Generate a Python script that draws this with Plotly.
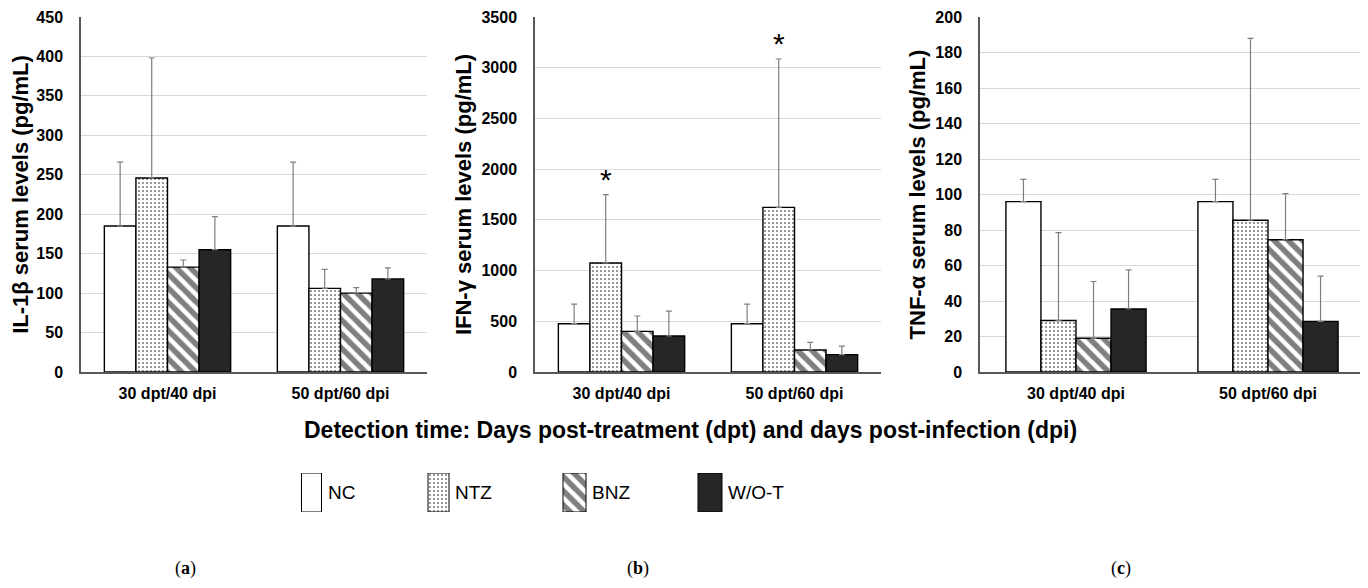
import plotly.graph_objects as go

categories = ["30 dpt/40 dpi", "50 dpt/60 dpi"]
groups = ["NC", "NTZ", "BNZ", "W/O-T"]

# Panel (a) IL-1β: means and upper error-bar tops
il1b_mean = {"NC": [185, 185], "NTZ": [246, 106], "BNZ": [133, 100], "W/O-T": [155, 118]}
il1b_top = {"NC": [266, 266], "NTZ": [398, 130], "BNZ": [142, 107], "W/O-T": [197, 132]}

# Panel (b) IFN-γ
ifng_mean = {"NC": [476, 476], "NTZ": [1075, 1623], "BNZ": [401, 217], "W/O-T": [355, 171]}
ifng_top = {"NC": [670, 670], "NTZ": [1748, 3086], "BNZ": [552, 292], "W/O-T": [601, 256]}

# Panel (c) TNF-α
tnfa_mean = {"NC": [96, 96], "NTZ": [29, 85.5], "BNZ": [19, 74.5], "W/O-T": [35.5, 28.5]}
tnfa_top = {"NC": [108.5, 108.5], "NTZ": [78.5, 188], "BNZ": [51, 100.5], "W/O-T": [57.5, 54]}

# significance marks (panel b, NTZ)
sig_cats = ["30 dpt/40 dpi", "50 dpt/60 dpi"]

y_titles = ["IL-1β serum levels (pg/mL)", "IFN-γ serum levels (pg/mL)", "TNF-α serum levels (pg/mL)"]
y_ranges = [[0, 450], [0, 3500], [0, 200]]
y_dticks = [50, 500, 20]
panel_labels = ["a", "b", "c"]

styles = {
    "NC": dict(color="white", pattern=None),
    "NTZ": dict(color="white", pattern=dict(shape=".", fgcolor="black", bgcolor="white", size=4, solidity=0.22)),
    "BNZ": dict(color="white", pattern=dict(shape="\\", fgcolor="black", bgcolor="white", size=10, solidity=0.55)),
    "W/O-T": dict(color="#262626", pattern=None),
}

SANS = "Liberation Sans, Arial, sans-serif"
SERIF = "Liberation Serif, DejaVu Serif, serif"

W, H = 1368, 588
OFF = 8  # default page body margin


def px_x(x):
    return (x - OFF) / W


def px_y(y):
    return 1 - (y - OFF) / H


fig = go.Figure()
datasets = [(il1b_mean, il1b_top), (ifng_mean, ifng_top), (tnfa_mean, tnfa_top)]
for p, (means, tops) in enumerate(datasets):
    xa = "x" if p == 0 else f"x{p+1}"
    ya = "y" if p == 0 else f"y{p+1}"
    for g in groups:
        st = styles[g]
        marker = dict(color=st["color"], line=dict(color="black", width=1.4))
        if st["pattern"] is not None:
            marker["pattern"] = st["pattern"]
        up = [t - m for t, m in zip(tops[g], means[g])]
        fig.add_trace(go.Bar(
            x=categories, y=means[g], name=g, xaxis=xa, yaxis=ya,
            marker=marker, showlegend=False,
            error_y=dict(type="data", array=up, arrayminus=[0] * len(up), symmetric=False,
                         color="#7f7f7f", thickness=1.2, width=3),
        ))

xdoms = [(81, 427), (535, 881), (980, 1364)]
ydom = [px_y(372), px_y(17)]

layout = dict(
    width=W, height=H, margin=dict(l=0, r=0, t=0, b=0, autoexpand=False),
    paper_bgcolor="white", plot_bgcolor="white",
    barmode="group", bargap=0.27, bargroupgap=0,
    font=dict(family=SANS, color="black"),
)
for p in range(3):
    xk = "xaxis" if p == 0 else f"xaxis{p+1}"
    yk = "yaxis" if p == 0 else f"yaxis{p+1}"
    ya = "y" if p == 0 else f"y{p+1}"
    xa = "x" if p == 0 else f"x{p+1}"
    layout[xk] = dict(domain=[px_x(xdoms[p][0]), px_x(xdoms[p][1])], anchor=ya, automargin=False,
                      showline=True, linecolor="#595959", linewidth=1.5, ticks="",
                      ticklabelstandoff=6,
                      tickfont=dict(size=16, family=SANS, weight="bold"), fixedrange=True)
    layout[yk] = dict(domain=ydom, anchor=xa, range=y_ranges[p], dtick=y_dticks[p], automargin=False,
                      showline=True, linecolor="#595959", linewidth=1.5, ticks="",
                      showgrid=True, gridcolor="#d9d9d9", gridwidth=1, zeroline=False,
                      ticklabelstandoff=13,
                      tickfont=dict(size=16, family=SANS, weight="bold"),
                      title=dict(text=y_titles[p], font=dict(size=22, family=SANS, weight="bold"), standoff=4))

# legend swatch axis (pixel coordinates of the page)
layout["xaxis4"] = dict(domain=[0, 1], range=[OFF, W + OFF], visible=False, anchor="y4", fixedrange=True, automargin=False)
layout["yaxis4"] = dict(domain=[px_y(512), px_y(473)], range=[0, 1], visible=False, anchor="x4", fixedrange=True, automargin=False)
fig.update_layout(**layout)

legend_x = {"NC": 311.5, "NTZ": 438.5, "BNZ": 574.5, "W/O-T": 710}
legend_w = {"NC": 20, "NTZ": 21, "BNZ": 23, "W/O-T": 24}
for g in groups:
    st = styles[g]
    marker = dict(color=st["color"], line=dict(color="black", width=1))
    if st["pattern"] is not None:
        marker["pattern"] = dict(st["pattern"])
    fig.add_trace(go.Bar(x=[legend_x[g]], y=[1], width=[legend_w[g]], xaxis="x4", yaxis="y4",
                         marker=marker, showlegend=False, hoverinfo="skip"))
    fig.add_annotation(x=legend_x[g] + legend_w[g] / 2 + 4, y=0.5, xref="x4", yref="y4",
                       text=g, showarrow=False, xanchor="left", yanchor="middle",
                       font=dict(size=19, family=SANS, color="black"))

# significance asterisks over NTZ bars in panel (b)
for c in sig_cats:
    i = categories.index(c)
    fig.add_annotation(x=c, y=ifng_top["NTZ"][i], xref="x2", yref="y2", text="*",
                       showarrow=False, xshift=-15.6, yshift=15, yanchor="middle",
                       font=dict(size=30, family=SANS, color="black"))

# x-axis overall title
fig.add_annotation(x=px_x(690), y=px_y(430), xref="paper", yref="paper",
                   text="<b>Detection time: Days post-treatment (dpt) and days post-infection (dpi)</b>",
                   showarrow=False, xanchor="center", yanchor="middle",
                   font=dict(size=23, family=SANS, color="black"))

# panel labels
for p, lab in enumerate(panel_labels):
    cx = [185, 638, 1121][p]
    fig.add_annotation(x=px_x(cx), y=px_y(568), xref="paper", yref="paper",
                       text=f"(<b>{lab}</b>)", showarrow=False, xanchor="center", yanchor="middle",
                       font=dict(size=18, family=SERIF, color="black"))

fig.write_html("out.html")
